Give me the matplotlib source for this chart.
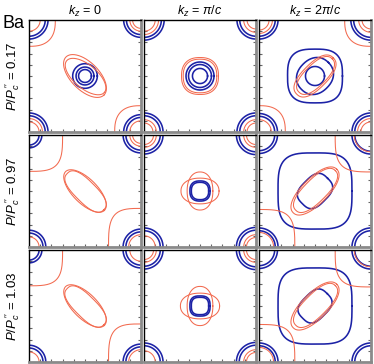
import numpy as np
import matplotlib
matplotlib.use("Agg")
import matplotlib.pyplot as plt

plt.rcParams['font.family'] = ['Liberation Sans', 'DejaVu Sans']
plt.rcParams['mathtext.fontset'] = 'custom'
plt.rcParams['mathtext.rm'] = 'Liberation Sans'
plt.rcParams['mathtext.it'] = 'Liberation Sans:italic'

# column / row labels
kz_labels = [r'$k_z$ = 0', r'$k_z$ = $\pi/c$', r'$k_z$ = 2$\pi/c$']
p_labels = ['0.17', '0.97', '1.03']

# Fermi surface contours, one list per panel
# (band, cx, cy, a, b, rotation in deg, superellipse power)
# band 'h' = blue, 'e' = orange
fs_017_0 = [
    ('h', 0, 0, 0.22, 0.22, 0, 2), ('h', 0, 0, 0.16, 0.16, 0, 2), ('h', 0, 0, 0.115, 0.115, 0, 2),
    ('e', 0, 0, 0.48, 0.25, -45, 2), ('e', 0.01, -0.01, 0.44, 0.21, -40, 2),
    ('h', -1, 1, 0.34, 0.34, 0, 2), ('h', -1, 1, 0.29, 0.29, 0, 2), ('e', -1, 1, 0.2, 0.2, 0, 2),
    ('e', -1, 1, 0.47, 0.47, 0, 2.6),
    ('h', 1, 1, 0.31, 0.31, 0, 2), ('h', 1, 1, 0.26, 0.26, 0, 2), ('e', 1, 1, 0.2, 0.2, 0, 2), ('e', 1, 1, 0.15, 0.15, 0, 2),
    ('h', -1, -1, 0.34, 0.34, 0, 2), ('h', -1, -1, 0.29, 0.29, 0, 2), ('e', -1, -1, 0.24, 0.24, 0, 2), ('e', -1, -1, 0.18, 0.18, 0, 2),
    ('h', 1, -1, 0.31, 0.31, 0, 2), ('h', 1, -1, 0.26, 0.26, 0, 2), ('e', 1, -1, 0.2, 0.2, 0, 2),
    ('e', 1, -1, 0.47, 0.47, 0, 2.6),
]
fs_017_pi = [
    ('h', 0, 0, 0.25, 0.25, 0, 2), ('h', 0, 0, 0.205, 0.205, 0, 2), ('h', 0, 0, 0.135, 0.135, 0, 2),
    ('e', 0, 0, 0.33, 0.33, 0, 2.4), ('e', 0, 0, 0.30, 0.30, 0, 2.4),
    ('h', -1, 1, 0.36, 0.36, 0, 2), ('h', -1, 1, 0.31, 0.31, 0, 2), ('e', -1, 1, 0.26, 0.26, 0, 2), ('e', -1, 1, 0.2, 0.2, 0, 2),
    ('h', 1, 1, 0.34, 0.34, 0, 2), ('h', 1, 1, 0.29, 0.29, 0, 2), ('e', 1, 1, 0.22, 0.22, 0, 2), ('e', 1, 1, 0.16, 0.16, 0, 2),
    ('h', -1, -1, 0.34, 0.34, 0, 2), ('h', -1, -1, 0.29, 0.29, 0, 2), ('e', -1, -1, 0.22, 0.22, 0, 2), ('e', -1, -1, 0.16, 0.16, 0, 2),
    ('h', 1, -1, 0.34, 0.34, 0, 2), ('h', 1, -1, 0.29, 0.29, 0, 2), ('e', 1, -1, 0.22, 0.22, 0, 2), ('e', 1, -1, 0.16, 0.16, 0, 2),
]
fs_017_2pi = [
    ('h', 0, 0, 0.49, 0.48, 0, 3), ('h', 0, 0, 0.34, 0.30, 45, 2.2), ('h', 0, 0, 0.17, 0.17, 0, 2),
    ('e', 0, 0, 0.46, 0.22, 45, 2.4), ('e', 0.01, 0.01, 0.42, 0.19, 45, 2.4),
    ('h', -1, 1, 0.34, 0.34, 0, 2), ('h', -1, 1, 0.29, 0.29, 0, 2), ('e', -1, 1, 0.24, 0.24, 0, 2), ('e', -1, 1, 0.18, 0.18, 0, 2),
    ('h', 1, 1, 0.36, 0.36, 0, 2), ('h', 1, 1, 0.31, 0.31, 0, 2), ('e', 1, 1, 0.22, 0.22, 0, 2), ('e', 1, 1, 0.16, 0.16, 0, 2),
    ('e', 1, 1, 0.47, 0.47, 0, 2.6),
    ('h', -1, -1, 0.33, 0.33, 0, 2), ('h', -1, -1, 0.28, 0.28, 0, 2), ('e', -1, -1, 0.22, 0.22, 0, 2),
    ('e', -1, -1, 0.47, 0.47, 0, 2.6),
    ('h', 1, -1, 0.34, 0.34, 0, 2), ('h', 1, -1, 0.29, 0.29, 0, 2), ('e', 1, -1, 0.24, 0.24, 0, 2), ('e', 1, -1, 0.18, 0.18, 0, 2),
]
fs_097_0 = [
    ('e', 0, 0, 0.49, 0.22, -45, 2), ('e', 0.01, -0.01, 0.46, 0.19, -45, 2.6),
    ('e', -1.08, 1.08, 0.68, 0.73, 0, 4), ('e', 1.08, -1.08, 0.66, 0.77, 0, 4),
    ('h', -1, 1, 0.23, 0.23, 0, 2), ('h', -1, 1, 0.18, 0.18, 0, 2),
    ('h', 1, 1, 0.32, 0.32, 0, 2), ('h', 1, 1, 0.27, 0.27, 0, 2), ('e', 1, 1, 0.2, 0.2, 0, 2), ('e', 1, 1, 0.15, 0.15, 0, 2),
    ('h', -1, -1, 0.3, 0.3, 0, 2), ('h', -1, -1, 0.25, 0.25, 0, 2), ('e', -1, -1, 0.18, 0.18, 0, 2),
    ('h', 1, -1, 0.32, 0.32, 0, 2), ('h', 1, -1, 0.27, 0.27, 0, 2), ('e', 1, -1, 0.22, 0.22, 0, 2),
]
fs_097_pi = [
    ('h', 0, 0, 0.18, 0.18, 0, 2.5), ('h', 0, 0, 0.155, 0.155, 0, 2.5),
    ('e', 0, 0, 0.34, 0.23, 0, 2.2), ('e', 0, 0, 0.23, 0.34, 0, 2.2),
    ('h', -1, 1, 0.34, 0.34, 0, 2), ('h', -1, 1, 0.29, 0.29, 0, 2), ('e', -1, 1, 0.22, 0.22, 0, 2), ('e', -1, 1, 0.17, 0.17, 0, 2),
    ('h', 1, 1, 0.35, 0.35, 0, 2), ('h', 1, 1, 0.3, 0.3, 0, 2), ('e', 1, 1, 0.22, 0.22, 0, 2), ('e', 1, 1, 0.17, 0.17, 0, 2),
    ('h', -1, -1, 0.34, 0.34, 0, 2), ('h', -1, -1, 0.29, 0.29, 0, 2), ('e', -1, -1, 0.2, 0.2, 0, 2),
    ('h', 1, -1, 0.35, 0.35, 0, 2), ('h', 1, -1, 0.3, 0.3, 0, 2), ('e', 1, -1, 0.22, 0.22, 0, 2), ('e', 1, -1, 0.17, 0.17, 0, 2),
]
fs_097_2pi = [
    ('h', 0, 0, 0.66, 0.68, 0, 3.5), ('h', 0, 0, 0.32, 0.24, 45, 3),
    ('e', 0, 0, 0.55, 0.23, 45, 2.2), ('e', 0.01, 0.01, 0.5, 0.2, 45, 2.4),
    ('e', 1.08, 1.08, 0.72, 0.74, 0, 4), ('e', -1.08, -1.08, 0.72, 0.75, 0, 4),
    ('h', -1, 1, 0.33, 0.33, 0, 2), ('h', -1, 1, 0.28, 0.28, 0, 2),
    ('h', 1, 1, 0.34, 0.34, 0, 2), ('h', 1, 1, 0.29, 0.29, 0, 2), ('e', 1, 1, 0.3, 0.3, 0, 2),
    ('h', -1, -1, 0.34, 0.34, 0, 2), ('h', -1, -1, 0.29, 0.29, 0, 2), ('e', -1, -1, 0.26, 0.26, 0, 2),
    ('h', 1, -1, 0.34, 0.34, 0, 2), ('h', 1, -1, 0.29, 0.29, 0, 2),
]
fs_103_0 = [
    ('e', 0, 0, 0.49, 0.22, -45, 2), ('e', 0.01, -0.01, 0.46, 0.19, -45, 2.6),
    ('e', -1.08, 1.08, 0.68, 0.72, 0, 4), ('e', 1.08, -1.08, 0.66, 0.76, 0, 4),
    ('h', -1, 1, 0.23, 0.23, 0, 2), ('h', -1, 1, 0.18, 0.18, 0, 2),
    ('h', 1, 1, 0.32, 0.32, 0, 2), ('h', 1, 1, 0.27, 0.27, 0, 2), ('e', 1, 1, 0.2, 0.2, 0, 2),
    ('h', -1, -1, 0.3, 0.3, 0, 2), ('h', -1, -1, 0.25, 0.25, 0, 2), ('e', -1, -1, 0.18, 0.18, 0, 2),
    ('h', 1, -1, 0.32, 0.32, 0, 2), ('h', 1, -1, 0.27, 0.27, 0, 2), ('e', 1, -1, 0.22, 0.22, 0, 2),
]
fs_103_pi = [
    ('h', 0, 0, 0.18, 0.18, 0, 2.8), ('h', 0, 0, 0.155, 0.155, 0, 2.8),
    ('e', 0, 0, 0.35, 0.23, 0, 2.2), ('e', 0, 0, 0.23, 0.35, 0, 2.2),
    ('h', -1, 1, 0.34, 0.34, 0, 2), ('h', -1, 1, 0.29, 0.29, 0, 2), ('e', -1, 1, 0.22, 0.22, 0, 2), ('e', -1, 1, 0.17, 0.17, 0, 2),
    ('h', 1, 1, 0.35, 0.35, 0, 2), ('h', 1, 1, 0.3, 0.3, 0, 2), ('e', 1, 1, 0.22, 0.22, 0, 2), ('e', 1, 1, 0.17, 0.17, 0, 2),
    ('h', -1, -1, 0.34, 0.34, 0, 2), ('h', -1, -1, 0.29, 0.29, 0, 2), ('e', -1, -1, 0.2, 0.2, 0, 2),
    ('h', 1, -1, 0.35, 0.35, 0, 2), ('h', 1, -1, 0.3, 0.3, 0, 2), ('e', 1, -1, 0.22, 0.22, 0, 2), ('e', 1, -1, 0.17, 0.17, 0, 2),
]
fs_103_2pi = [
    ('h', 0, 0, 0.66, 0.68, 0, 3.5), ('h', 0, 0, 0.31, 0.23, 45, 3),
    ('e', 0, 0, 0.55, 0.23, 45, 2.2), ('e', 0.01, 0.01, 0.5, 0.2, 45, 2.4),
    ('e', 1.08, 1.08, 0.72, 0.74, 0, 4), ('e', -1.08, -1.08, 0.72, 0.75, 0, 4),
    ('h', -1, 1, 0.33, 0.33, 0, 2), ('h', -1, 1, 0.28, 0.28, 0, 2),
    ('h', 1, 1, 0.34, 0.34, 0, 2), ('h', 1, 1, 0.29, 0.29, 0, 2), ('e', 1, 1, 0.3, 0.3, 0, 2),
    ('h', -1, -1, 0.34, 0.34, 0, 2), ('h', -1, -1, 0.29, 0.29, 0, 2), ('e', -1, -1, 0.26, 0.26, 0, 2),
    ('h', 1, -1, 0.34, 0.34, 0, 2), ('h', 1, -1, 0.29, 0.29, 0, 2),
]

panels = [[fs_017_0, fs_017_pi, fs_017_2pi],
          [fs_097_0, fs_097_pi, fs_097_2pi],
          [fs_103_0, fs_103_pi, fs_103_2pi]]

colors = {'h': '#1c22a6', 'e': '#f26a4f'}
widths = {'h': 1.15, 'e': 0.75}


def contour(cx, cy, a, b, rot, n):
    t = np.linspace(0, 2 * np.pi, 721)
    c, s = np.cos(t), np.sin(t)
    x = a * np.sign(c) * np.abs(c) ** (2 / n)
    y = b * np.sign(s) * np.abs(s) ** (2 / n)
    r = np.deg2rad(rot)
    return cx + x * np.cos(r) - y * np.sin(r), cy + x * np.sin(r) + y * np.cos(r)


W, H = 374, 364
fig = plt.figure(figsize=(W / 100, H / 100), dpi=100)

col_x = [29, 144, 259]
row_y = [20, 135, 250]
size = 112

for i in range(3):
    for j in range(3):
        ax = fig.add_axes([col_x[j] / W, 1 - (row_y[i] + size) / H, size / W, size / H])
        for band, cx, cy, a, b, rot, n in panels[i][j]:
            x, y = contour(cx, cy, a, b, rot, n)
            ax.plot(x, y, color=colors[band], lw=widths[band], solid_joinstyle='round')
        ax.set_xlim(-1, 1)
        ax.set_ylim(-1, 1)
        ax.set_xticks(np.arange(-0.8, 0.81, 0.2))
        ax.set_yticks(np.arange(-0.8, 0.81, 0.2))
        ax.tick_params(direction='in', length=2.5, width=0.8, color='#666666',
                       left=True, right=True, bottom=True, top=False,
                       labelleft=False, labelbottom=False)
        for side in ['top', 'left']:
            ax.spines[side].set_color('black')
            ax.spines[side].set_linewidth(1.0)
        for side in ['bottom', 'right']:
            ax.spines[side].set_color('#8a8a8a')
            ax.spines[side].set_linewidth(2.0)

for j in range(3):
    fig.text((col_x[j] + size / 2) / W, 1 - 11 / H, kz_labels[j],
             ha='center', va='center', fontsize=9)
for i in range(3):
    fig.text(13 / W, 1 - (row_y[i] + size / 2) / H,
             r'$P/P_c^{\,\prime\prime}$ = ' + p_labels[i],
             ha='center', va='center', rotation=90, fontsize=9.5)

fig.text(2 / W, 1 - 28 / H, 'Ba', fontsize=13, ha='left', va='baseline')

fig.savefig('out.png', dpi=100)
